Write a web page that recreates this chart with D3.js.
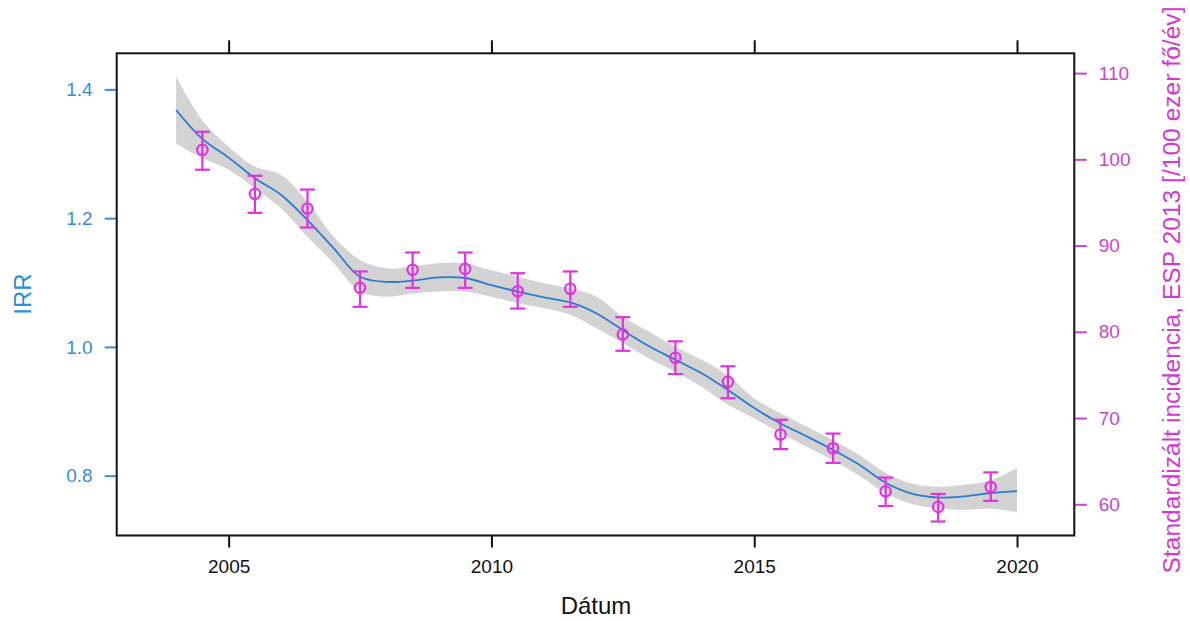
<!DOCTYPE html>
<html>
<head>
<meta charset="utf-8">
<script src="https://cdn.jsdelivr.net/npm/d3@7"></script>
<style>
  html, body { margin: 0; padding: 0; background: #ffffff; }
  svg { display: block; font-family: "Liberation Sans", Arial, sans-serif; }
</style>
</head>
<body>
<svg id="chart" width="1190" height="621"></svg>
<script>
// ---------- data ----------
const xTicks = [2005, 2010, 2015, 2020];
const irrTicks = [0.8, 1.0, 1.2, 1.4];
const incTicks = [60, 70, 80, 90, 100, 110];

// smoothed IRR curve (half-year steps, 2004–2020)
const curveYears = [2004.0, 2004.5, 2005.0, 2005.5, 2006.0, 2006.5, 2007.0, 2007.5, 2008.0, 2008.5,
  2009.0, 2009.5, 2010.0, 2010.5, 2011.0, 2011.5, 2012.0, 2012.5, 2013.0, 2013.5, 2014.0, 2014.5,
  2015.0, 2015.5, 2016.0, 2016.5, 2017.0, 2017.5, 2018.0, 2018.5, 2019.0, 2019.5, 2020.0];
const irrFit = [1.368, 1.323, 1.294, 1.262, 1.236, 1.197, 1.153, 1.109, 1.101, 1.103,
  1.108, 1.107, 1.096, 1.086, 1.077, 1.069, 1.052, 1.026, 1.001, 0.980, 0.959, 0.933,
  0.905, 0.881, 0.861, 0.840, 0.817, 0.789, 0.772, 0.766, 0.768, 0.773, 0.776];
const irrLower = [1.316, 1.293, 1.275, 1.246, 1.215, 1.171, 1.130, 1.086, 1.078, 1.083,
  1.086, 1.086, 1.078, 1.068, 1.060, 1.050, 1.029, 1.006, 0.982, 0.961, 0.938, 0.910,
  0.889, 0.866, 0.845, 0.824, 0.800, 0.773, 0.756, 0.749, 0.747, 0.749, 0.743];
const irrUpper = [1.420, 1.352, 1.311, 1.280, 1.267, 1.225, 1.171, 1.135, 1.122, 1.125,
  1.130, 1.130, 1.119, 1.109, 1.099, 1.091, 1.078, 1.047, 1.024, 1.000, 0.980, 0.956,
  0.920, 0.897, 0.876, 0.855, 0.832, 0.804, 0.788, 0.783, 0.786, 0.793, 0.812];

// standardized incidence (per 100 000 / year) with CI
const pointYears = [2004.5, 2005.5, 2006.5, 2007.5, 2008.5, 2009.5, 2010.5, 2011.5,
  2012.5, 2013.5, 2014.5, 2015.5, 2016.5, 2017.5, 2018.5, 2019.5];
const incidence = [101.1, 96.0, 94.3, 85.1, 87.2, 87.3, 84.7, 85.0,
  79.7, 77.0, 74.2, 68.1, 66.5, 61.5, 59.7, 62.0];
const incLow = [98.8, 93.8, 92.1, 82.9, 85.1, 85.1, 82.7, 82.9,
  77.8, 75.1, 72.3, 66.4, 64.8, 59.8, 58.0, 60.4];
const incHigh = [103.2, 98.1, 96.5, 87.0, 89.2, 89.2, 86.8, 87.0,
  81.7, 78.9, 76.0, 69.8, 68.2, 63.1, 61.2, 63.7];

const xLabel = "Dátum";
const yLeftLabel = "IRR";
const yRightLabel = "Standardizált incidencia, ESP 2013 [/100 ezer fő/év]";

// ---------- layout ----------
const L = 116.7, R = 1074.3, T = 53.3, B = 535.5;
const blue = "#3a8dcf", curveBlue = "#2a7bd2", magenta = "#e033e0", magText = "#cc44cc";
const fontSize = 19;

const svg = d3.select("#chart");

const x = d3.scaleLinear().domain([2002.87, 2021.09]).range([L, R]);
const yL = d3.scaleLinear().domain([0.7071, 1.456]).range([B, T]);
const yR = d3.scaleLinear().domain([56.38, 112.3]).range([B, T]);

// CI band
const band = curveYears.map((yr, i) => ({ yr, lo: irrLower[i], hi: irrUpper[i], fit: irrFit[i] }));
svg.append("path")
  .datum(band)
  .attr("fill", "#d3d3d3")
  .attr("stroke", "none")
  .attr("d", d3.area().curve(d3.curveCatmullRom)
    .x(d => x(d.yr)).y0(d => yL(d.lo)).y1(d => yL(d.hi)));

// fitted line
svg.append("path")
  .datum(band)
  .attr("fill", "none")
  .attr("stroke", curveBlue)
  .attr("stroke-width", 1.8)
  .attr("d", d3.line().curve(d3.curveCatmullRom).x(d => x(d.yr)).y(d => yL(d.fit)));

// points with error bars
const pts = pointYears.map((yr, i) => ({ yr, v: incidence[i], lo: incLow[i], hi: incHigh[i] }));
const g = svg.append("g").attr("stroke", magenta).attr("fill", "none").attr("stroke-width", 2.2);
const capW = 7.5;
pts.forEach(d => {
  const cx = x(d.yr);
  g.append("line").attr("x1", cx).attr("x2", cx).attr("y1", yR(d.lo)).attr("y2", yR(d.hi));
  g.append("line").attr("x1", cx - capW).attr("x2", cx + capW).attr("y1", yR(d.lo)).attr("y2", yR(d.lo));
  g.append("line").attr("x1", cx - capW).attr("x2", cx + capW).attr("y1", yR(d.hi)).attr("y2", yR(d.hi));
  g.append("circle").attr("cx", cx).attr("cy", yR(d.v)).attr("r", 5.2).attr("fill", "none");
});

// ---------- axes ----------
function styleAxis(sel, color) {
  sel.select(".domain").remove();
  sel.selectAll(".tick line").attr("stroke", color).attr("stroke-width", 2);
  sel.selectAll(".tick text").attr("fill", color)
    .style("font-size", fontSize + "px").style("font-family", "'Liberation Sans', Arial, sans-serif");
}

const axB = svg.append("g").attr("transform", `translate(0,${B})`)
  .call(d3.axisBottom(x).tickValues(xTicks).tickFormat(d3.format("d")).tickSize(12).tickPadding(12.5));
styleAxis(axB, "#111");

const axT = svg.append("g").attr("transform", `translate(0,${T})`)
  .call(d3.axisTop(x).tickValues(xTicks).tickFormat("").tickSize(13));
styleAxis(axT, "#111");

const axLft = svg.append("g").attr("transform", `translate(${L},0)`)
  .call(d3.axisLeft(yL).tickValues(irrTicks).tickFormat(d3.format(".1f")).tickSize(12).tickPadding(12));
styleAxis(axLft, blue);

const axRgt = svg.append("g").attr("transform", `translate(${R},0)`)
  .call(d3.axisRight(yR).tickValues(incTicks).tickFormat(d3.format("d")).tickSize(12.5).tickPadding(12));
styleAxis(axRgt, magText);

// frame
svg.append("rect")
  .attr("x", L).attr("y", T).attr("width", R - L).attr("height", B - T)
  .attr("fill", "none").attr("stroke", "#111").attr("stroke-width", 2);

// titles
svg.append("text")
  .attr("x", 596).attr("y", 614)
  .attr("text-anchor", "middle")
  .attr("fill", "#111")
  .style("font-size", "24px")
  .text(xLabel);

svg.append("text")
  .attr("transform", "translate(30.5,294) rotate(-90)")
  .attr("text-anchor", "middle")
  .attr("fill", "#2d8fd5")
  .style("font-size", "24px")
  .text(yLeftLabel);

svg.append("text")
  .attr("transform", "translate(1180,290) rotate(-90)")
  .attr("text-anchor", "middle")
  .attr("fill", "#d03ad0")
  .style("font-size", "24.6px")
  .text(yRightLabel);
</script>
</body>
</html>
